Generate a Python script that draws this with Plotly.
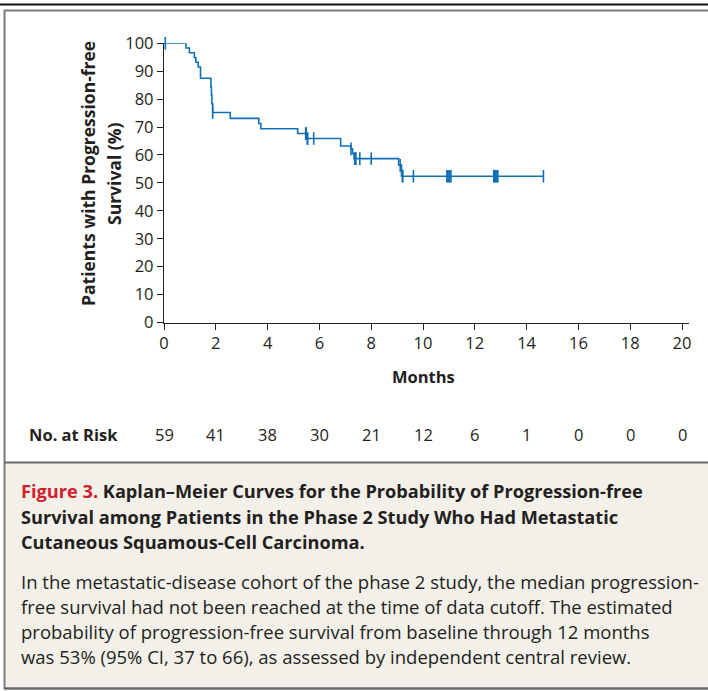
import plotly.graph_objects as go

# ---- Data ----
step_times = [0, 0.85, 0.98, 1.17, 1.23, 1.32, 1.41, 1.81, 1.83, 1.85, 1.88, 2.56,
              3.66, 3.74, 5.16, 5.51, 6.82, 7.21, 7.28, 7.34, 9.06, 9.16, 9.20]
step_surv = [100, 98.3, 96.6, 94.9, 93.2, 91.5, 87.5, 84.5, 81.5, 78.3, 75.2, 73.1,
             71.3, 69.4, 67.7, 65.9, 63.2, 62.2, 60.5, 58.7, 56.3, 54.4, 52.4]
end_time = 14.65
censor_times = [0.05, 1.88, 5.47, 5.49, 5.53, 5.55, 5.78, 7.22, 7.36, 7.38, 7.41, 7.56, 8.0,
                9.12, 9.17, 9.20, 9.22, 9.63,
                10.92, 10.96, 11.0, 11.04, 11.08,
                12.73, 12.77, 12.81, 12.85, 12.89, 14.65]
risk_months = [0, 2, 4, 6, 8, 10, 12, 14, 16, 18, 20]
risk_counts = [59, 41, 38, 30, 21, 12, 6, 1, 0, 0, 0]
x_ticks = [0, 2, 4, 6, 8, 10, 12, 14, 16, 18, 20]
y_ticks = [0, 10, 20, 30, 40, 50, 60, 70, 80, 90, 100]

y_title_lines = ["Patients with Progression-free", "Survival (%)"]
caption_title = ["<span style='color:#d0202e'>Figure 3.</span> Kaplan\u2013Meier Curves for the Probability of Progression-free",
                 "Survival among Patients in the Phase 2 Study Who Had Metastatic",
                 "Cutaneous Squamous-Cell Carcinoma."]
caption_body = ["In the metastatic-disease cohort of the phase 2 study, the median progression-",
                "free survival had not been reached at the time of data cutoff. The estimated",
                "probability of progression-free survival from baseline through 12 months",
                "was 53% (95% CI, 37 to 66), as assessed by independent central review."]

# ---- Helpers ----
W, H = 708, 691
def px(x):
    return x / W
def py(y):
    return 1 - y / H

def surv_at(t):
    s = step_surv[0]
    for tt, ss in zip(step_times, step_surv):
        if tt <= t:
            s = ss
    return s

line_x = step_times + [end_time]
line_y = step_surv + [step_surv[-1]]
censor_y = [surv_at(t) for t in censor_times]

BLUE = "#1170b5"
FONT = "Open Sans"
TXT = "#231f20"

fig = go.Figure()
fig.add_trace(go.Scatter(x=line_x, y=line_y, mode="lines", line=dict(color=BLUE, width=1.6, shape="hv"),
                         hoverinfo="skip", cliponaxis=False, showlegend=False))
fig.add_trace(go.Scatter(x=censor_times, y=censor_y, mode="markers",
                         marker=dict(symbol="line-ns", size=9, line=dict(color=BLUE, width=1.6)),
                         cliponaxis=False, showlegend=False))

shapes = []
shapes.append(dict(type="rect", xref="paper", yref="paper", x0=px(5), x1=1.0, y0=py(688), y1=py(463),
                   fillcolor="#f3f0ea", line=dict(width=0), layer="below"))
shapes.append(dict(type="line", xref="paper", yref="paper", x0=0, x1=1, y0=py(4.5), y1=py(4.5),
                   line=dict(color="#111111", width=2)))
shapes.append(dict(type="line", xref="paper", yref="paper", x0=px(4), x1=1, y0=py(10.5), y1=py(10.5),
                   line=dict(color="#7a7a7a", width=2)))
shapes.append(dict(type="line", xref="paper", yref="paper", x0=px(4.5), x1=px(4.5), y0=py(10), y1=py(689),
                   line=dict(color="#7a7a7a", width=2)))
shapes.append(dict(type="line", xref="paper", yref="paper", x0=px(4), x1=1, y0=py(462.5), y1=py(462.5),
                   line=dict(color="#6a6a6a", width=2)))
shapes.append(dict(type="line", xref="paper", yref="paper", x0=px(4), x1=1, y0=py(688.5), y1=py(688.5),
                   line=dict(color="#6a6a6a", width=2.5)))

ann = []
for xc, t in zip([88, 114], y_title_lines):
    ann.append(dict(text="<b>" + t + "</b>", xref="paper", yref="paper",
                    x=px(xc), y=py(174), textangle=-90, showarrow=False, xanchor="center", yanchor="middle",
                    font=dict(family=FONT, size=17.5, color=TXT)))
ann.append(dict(text="<b>Months</b>", xref="x", yref="paper", x=10, y=py(377), showarrow=False,
                xanchor="center", yanchor="middle", font=dict(family=FONT, size=16.5, color=TXT)))
ann.append(dict(text="<b>No. at Risk</b>", xref="paper", yref="paper", x=px(27), y=py(434), showarrow=False,
                xanchor="left", yanchor="middle", font=dict(family=FONT, size=16.5, color=TXT)))
for m, c in zip(risk_months, risk_counts):
    ann.append(dict(text=str(c), xref="x", yref="paper", x=m, y=py(434), showarrow=False,
                    xanchor="center", yanchor="middle", font=dict(family=FONT, size=16.5, color=TXT)))
for i, t in enumerate(caption_title):
    ann.append(dict(text="<b>" + t + "</b>", xref="paper", yref="paper", x=px(19), y=py(491 + 25.5 * i),
                    showarrow=False, xanchor="left", yanchor="middle",
                    font=dict(family=FONT, size=18.2, color=TXT)))
for i, t in enumerate(caption_body):
    ann.append(dict(text=t, xref="paper", yref="paper", x=px(19), y=py(581 + 25 * i),
                    showarrow=False, xanchor="left", yanchor="middle",
                    font=dict(family=FONT, size=18.5, color=TXT)))

fig.update_layout(
    width=W, height=H, margin=dict(l=0, r=0, t=0, b=0, pad=0, autoexpand=False),
    paper_bgcolor="white", plot_bgcolor="white",
    shapes=shapes, annotations=ann, showlegend=False,
    xaxis=dict(domain=[px(164), px(689)], range=[0, 20.27], tickvals=x_ticks, ticks="outside",
               ticklen=6, tickwidth=1.3, tickcolor="#231f20", showline=True, linecolor="#231f20",
               linewidth=1.3, showgrid=False, zeroline=False, automargin=False,
               tickfont=dict(family=FONT, size=16.5, color=TXT)),
    yaxis=dict(domain=[py(322.5), py(43.3)], range=[0, 100], tickvals=y_ticks, ticks="outside",
               ticklen=6, tickwidth=1.3, tickcolor="#231f20", showline=True, linecolor="#231f20",
               linewidth=1.3, showgrid=False, zeroline=False, automargin=False,
               tickfont=dict(family=FONT, size=16.5, color=TXT)),
)

fig.write_html("out.html", config={"displayModeBar": False},
               post_script="document.body.style.margin='0px';document.body.style.overflow='hidden';")
